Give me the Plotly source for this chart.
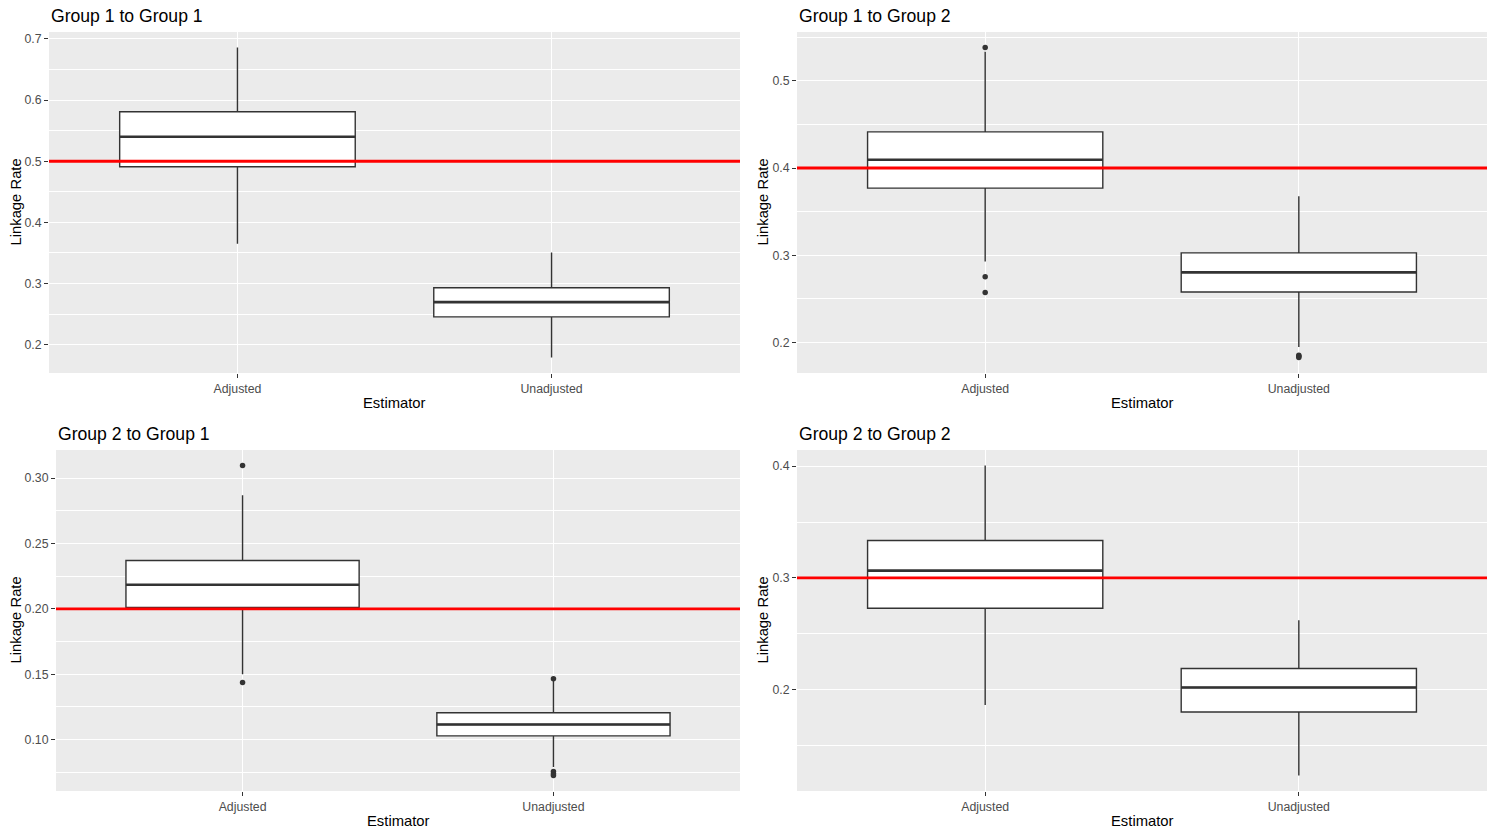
import plotly.graph_objects as go

# Estimators (x categories) and the four panels
estimators = ["Adjusted", "Unadjusted"]
panel_titles = ["Group 1 to Group 1", "Group 1 to Group 2",
                "Group 2 to Group 1", "Group 2 to Group 2"]
true_rate = [0.5, 0.4, 0.2, 0.3]

# Box statistics per panel: [Adjusted, Unadjusted]
lower_whisker = [[0.365, 0.179], [0.293, 0.195], [0.150, 0.079], [0.1865, 0.1235]]
q1 = [[0.491, 0.2455], [0.377, 0.258], [0.201, 0.1028], [0.273, 0.1802]]
median = [[0.540, 0.2695], [0.4095, 0.2805], [0.2184, 0.1115], [0.3066, 0.2021]]
q3 = [[0.581, 0.293], [0.4414, 0.3028], [0.237, 0.1205], [0.3335, 0.2191]]
upper_whisker = [[0.686, 0.3507], [0.533, 0.3678], [0.287, 0.145], [0.4005, 0.2623]]

# Outlying points per panel
outliers_adjusted = [[], [0.538, 0.2755, 0.2575], [0.3097, 0.1436], []]
outliers_unadjusted = [[], [0.1843, 0.1855, 0.1830], [0.1465, 0.0755, 0.0738, 0.0725], []]

# y-axis ticks per panel
y_ticks = [[0.2, 0.3, 0.4, 0.5, 0.6, 0.7],
           [0.2, 0.3, 0.4, 0.5],
           [0.10, 0.15, 0.20, 0.25, 0.30],
           [0.2, 0.3, 0.4]]
y_tick_labels = [["0.2", "0.3", "0.4", "0.5", "0.6", "0.7"],
                 ["0.2", "0.3", "0.4", "0.5"],
                 ["0.10", "0.15", "0.20", "0.25", "0.30"],
                 ["0.2", "0.3", "0.4"]]

W, H = 1495, 836
FONT = "Liberation Sans, Arial, sans-serif"
INK = "#333333"
# plot areas in pixels: left, right, top, bottom
panel_px = [(49, 740, 32, 373), (797, 1487, 32, 373),
            (56, 740, 450, 791), (797, 1487, 450, 791)]

fig = go.Figure()
annotations = []
box_w = 0.75
pos = list(range(1, len(estimators) + 1))

for i in range(4):
    sfx = "" if i == 0 else str(i + 1)
    xa, ya = "x" + sfx, "y" + sfx

    fig.add_trace(go.Box(
        x=pos, q1=q1[i], median=median[i], q3=q3[i],
        lowerfence=lower_whisker[i], upperfence=upper_whisker[i],
        width=box_w, fillcolor="white", line=dict(color=INK, width=1.4),
        whiskerwidth=0, boxpoints=False, showlegend=False,
        xaxis=xa, yaxis=ya))

    # thicker median bar, as in ggplot
    mx, my = [], []
    for p, m in zip(pos, median[i]):
        mx += [p - box_w / 2, p + box_w / 2, None]
        my += [m, m, None]
    fig.add_trace(go.Scatter(x=mx, y=my, mode="lines",
                             line=dict(color=INK, width=2.6),
                             showlegend=False, hoverinfo="skip",
                             xaxis=xa, yaxis=ya))

    ox = [1] * len(outliers_adjusted[i]) + [2] * len(outliers_unadjusted[i])
    oy = outliers_adjusted[i] + outliers_unadjusted[i]
    if oy:
        fig.add_trace(go.Scatter(x=ox, y=oy, mode="markers",
                                 marker=dict(color=INK, size=5.5),
                                 showlegend=False, xaxis=xa, yaxis=ya))

    fig.add_shape(type="line", xref=xa + " domain", x0=0, x1=1,
                  yref=ya, y0=true_rate[i], y1=true_rate[i],
                  line=dict(color="red", width=2.8))

    # ranges with ggplot-like 5% expansion
    vals = lower_whisker[i] + upper_whisker[i] + oy
    lo, hi = min(vals), max(vals)
    pad = (hi - lo) * 0.05
    step = y_ticks[i][1] - y_ticks[i][0]
    minor_vals = [t - step / 2 for t in y_ticks[i]] + [y_ticks[i][-1] + step / 2]

    l, r, t, b = panel_px[i]
    xdom = [l / W, r / W]
    ydom = [1 - b / H, 1 - t / H]

    fig.update_layout(**{
        "xaxis" + sfx: dict(
            domain=xdom, range=[0.4, len(estimators) + 0.6],
            tickvals=pos, ticktext=estimators, anchor=ya,
            showgrid=True, gridcolor="white", gridwidth=1.4, zeroline=False,
            ticks="outside", ticklen=4, tickwidth=1, tickcolor=INK,
            tickfont=dict(size=12.3, color="#4D4D4D", family=FONT),
            showline=False, fixedrange=True),
        "yaxis" + sfx: dict(
            domain=ydom, range=[lo - pad, hi + pad],
            tickvals=y_ticks[i], ticktext=y_tick_labels[i], anchor=xa,
            showgrid=True, gridcolor="white", gridwidth=1.4, zeroline=False,
            minor=dict(tickvals=minor_vals, showgrid=True, gridcolor="white",
                       gridwidth=0.7, ticks=""),
            ticks="outside", ticklen=4, tickwidth=1, tickcolor=INK,
            tickfont=dict(size=12.3, color="#4D4D4D", family=FONT),
            showline=False, fixedrange=True),
    })

    annotations.append(dict(text=panel_titles[i], xref="paper", yref="paper",
                            x=l / W, y=1 - (t - 16) / H, xanchor="left",
                            yanchor="middle", showarrow=False,
                            font=dict(size=17.6, color="black", family=FONT)))
    annotations.append(dict(text="Estimator", xref="paper", yref="paper",
                            x=(l + r) / 2 / W, y=1 - (b + 30) / H,
                            xanchor="center", yanchor="middle", showarrow=False,
                            font=dict(size=14.8, color="black", family=FONT)))
    annotations.append(dict(text="Linkage Rate", xref="paper", yref="paper",
                            x=(15 if i % 2 == 0 else 762) / W,
                            y=1 - (t + b) / 2 / H, textangle=-90,
                            xanchor="center", yanchor="middle", showarrow=False,
                            font=dict(size=14.8, color="black", family=FONT)))

fig.update_layout(
    width=W, height=H,
    margin=dict(l=0, r=0, t=0, b=0),
    paper_bgcolor="white", plot_bgcolor="#EBEBEB",
    boxmode="overlay",
    font=dict(family=FONT),
    annotations=annotations,
)

fig.write_html("out.html", config={"displayModeBar": False},
               post_script="document.body.style.margin = '0';")
